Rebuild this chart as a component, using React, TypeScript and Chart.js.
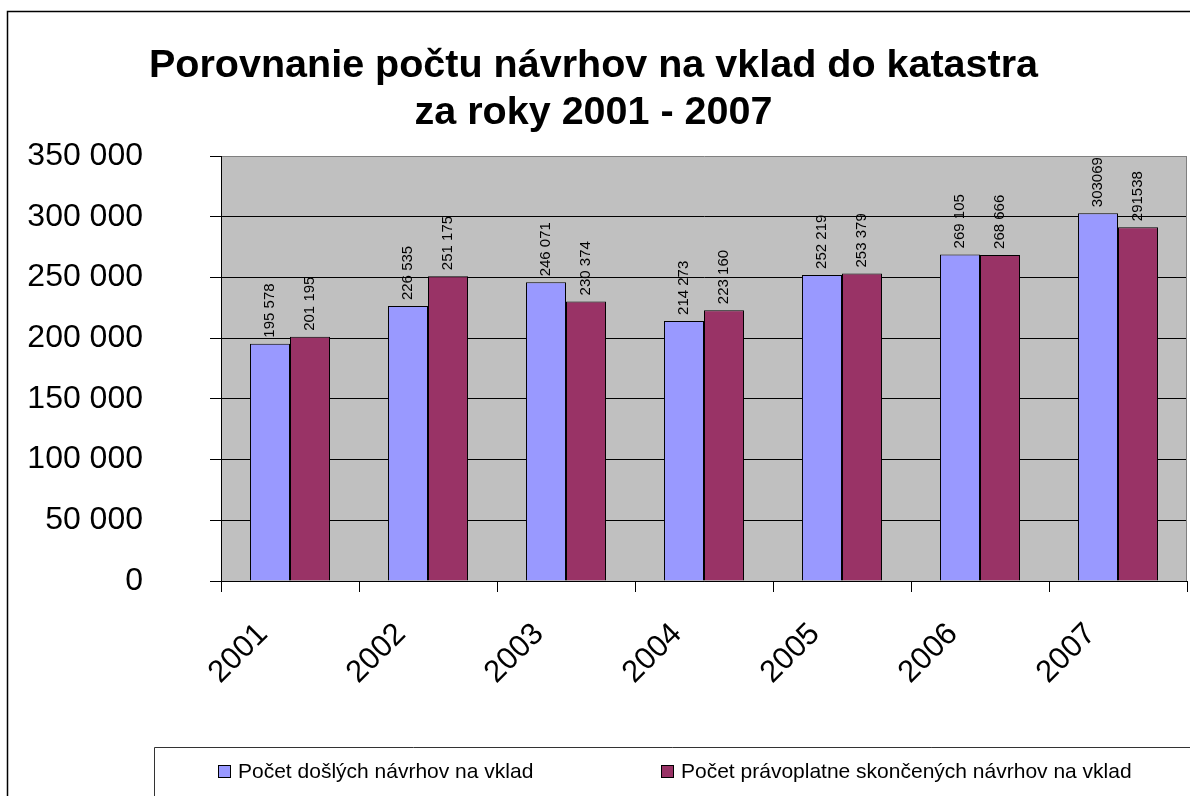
import React, { useEffect, useRef } from "react";
import { Chart, registerables } from "chart.js";

Chart.register(...registerables);

const years = ["2001", "2002", "2003", "2004", "2005", "2006", "2007"];
const received = [195578, 226535, 246071, 214273, 252219, 269105, 303069];
const completed = [201195, 251175, 230374, 223160, 253379, 268666, 291538];
const receivedLabels = ["195 578", "226 535", "246 071", "214 273", "252 219", "269 105", "303069"];
const completedLabels = ["201 195", "251 175", "230 374", "223 160", "253 379", "268 666", "291538"];
const seriesNames = ["Počet došlých návrhov na vklad", "Počet právoplatne skončených návrhov na vklad"];
const titleLines = ["Porovnanie počtu návrhov na vklad do katastra", "za roky 2001 - 2007"];
const yMin = 0;
const yMax = 350000;
const yStep = 50000;

const FONT = "'Liberation Sans', Arial, Helvetica, sans-serif";
const BLUE = "#9999FF";
const PLUM = "#993366";

const fmt = (v: number) => String(v).replace(/\B(?=(\d{3})+(?!\d))/g, " ");

const decorPlugin = {
  id: "decor",
  beforeDraw(chart: any) {
    const { ctx, chartArea: a } = chart;
    ctx.save();
    ctx.fillStyle = "#C0C0C0";
    ctx.fillRect(a.left, a.top, a.right - a.left, a.bottom - a.top);
    ctx.restore();
  },
  beforeDatasetsDraw(chart: any) {
    const { ctx, chartArea: a } = chart;
    ctx.save();
    ctx.strokeStyle = "#808080";
    ctx.lineWidth = 1;
    ctx.beginPath();
    ctx.moveTo(a.right - 0.5, a.top);
    ctx.lineTo(a.right - 0.5, a.bottom);
    ctx.stroke();
    ctx.restore();
  },
  afterDatasetsDraw(chart: any) {
    const { ctx } = chart;
    const labelSets = [receivedLabels, completedLabels];
    ctx.save();
    ctx.fillStyle = "#000";
    ctx.font = `15px ${FONT}`;
    ctx.textAlign = "left";
    ctx.textBaseline = "middle";
    chart.data.datasets.forEach((_: any, di: number) => {
      const meta = chart.getDatasetMeta(di);
      meta.data.forEach((bar: any, i: number) => {
        ctx.save();
        ctx.translate(bar.x, bar.y - 6);
        ctx.rotate(-Math.PI / 2);
        ctx.fillText(labelSets[di][i], 0, 0);
        ctx.restore();
      });
    });
    ctx.restore();
  },
  afterDraw(chart: any) {
    const { ctx } = chart;
    ctx.save();
    // outer chart border
    ctx.strokeStyle = "#000";
    ctx.lineWidth = 1.5;
    ctx.beginPath();
    ctx.moveTo(7.5, 900);
    ctx.lineTo(7.5, 11.5);
    ctx.lineTo(1300, 11.5);
    ctx.stroke();
    // legend box
    ctx.strokeStyle = "#333";
    ctx.lineWidth = 1;
    ctx.beginPath();
    ctx.moveTo(154.5, 900);
    ctx.lineTo(154.5, 747.5);
    ctx.lineTo(1300, 747.5);
    ctx.stroke();
    const items = [
      { x: 218, color: BLUE },
      { x: 661, color: PLUM },
    ];
    ctx.font = `21px ${FONT}`;
    ctx.textBaseline = "middle";
    ctx.textAlign = "left";
    items.forEach((it, i) => {
      ctx.fillStyle = it.color;
      ctx.fillRect(it.x, 765, 13, 13);
      ctx.strokeStyle = "#000";
      ctx.strokeRect(it.x + 0.5, 765.5, 12, 12);
      ctx.fillStyle = "#000";
      ctx.fillText(seriesNames[i], it.x + 20, 772);
    });
    ctx.restore();
  },
};

export default function App() {
  const ref = useRef<HTMLCanvasElement | null>(null);
  useEffect(() => {
    if (!ref.current) return;
    const chart = new Chart(ref.current, {
      type: "bar",
      data: {
        labels: years,
        datasets: [
          {
            label: seriesNames[0],
            data: received,
            backgroundColor: BLUE,
            borderColor: "#000",
            borderWidth: 1,
            barPercentage: 1,
            categoryPercentage: 0.58,
          },
          {
            label: seriesNames[1],
            data: completed,
            backgroundColor: PLUM,
            borderColor: "#000",
            borderWidth: 1,
            barPercentage: 1,
            categoryPercentage: 0.58,
          },
        ],
      },
      options: {
        responsive: false,
        animation: false,
        layout: { padding: { left: 0, right: 3, top: 0, bottom: 0 } },
        plugins: {
          legend: { display: false },
          tooltip: { enabled: false },
          title: {
            display: true,
            text: titleLines,
            color: "#000",
            font: { family: FONT, size: 39.5, weight: "bold", lineHeight: 1.18 },
            padding: { top: 43, bottom: 20 },
          },
        },
        scales: {
          x: {
            grid: {
              display: true,
              drawOnChartArea: false,
              drawTicks: true,
              tickLength: 11,
              tickColor: "#000",
              offset: true,
            },
            border: { display: true, color: "#000", width: 1 },
            ticks: {
              color: "#000",
              font: { family: FONT, size: 31 },
              maxRotation: 45,
              minRotation: 45,
              autoSkip: false,
              padding: 24,
              labelOffset: -27,
            },
            afterFit: (s: any) => {
              s.height = 215;
            },
          },
          y: {
            min: yMin,
            max: yMax,
            ticks: {
              stepSize: yStep,
              color: "#000",
              font: { family: FONT, size: 32 },
              padding: 67,
              callback: (v: any) => fmt(Number(v)),
            },
            grid: {
              color: (c: any) => (c.tick && c.tick.value === yMax ? "#808080" : "#000"),
              tickColor: "#000",
              tickLength: 11,
              lineWidth: 1,
            },
            border: { display: true, color: "#000", width: 1 },
            afterFit: (s: any) => {
              s.width = 221;
            },
          },
        },
      },
      plugins: [decorPlugin],
    } as any);
    return () => chart.destroy();
  }, []);
  return (
    <div style={{ position: "absolute", left: 0, top: 0, width: 1190, height: 796, background: "#fff" }}>
      <canvas ref={ref} width={1190} height={796} style={{ display: "block", width: 1190, height: 796 }} />
    </div>
  );
}
